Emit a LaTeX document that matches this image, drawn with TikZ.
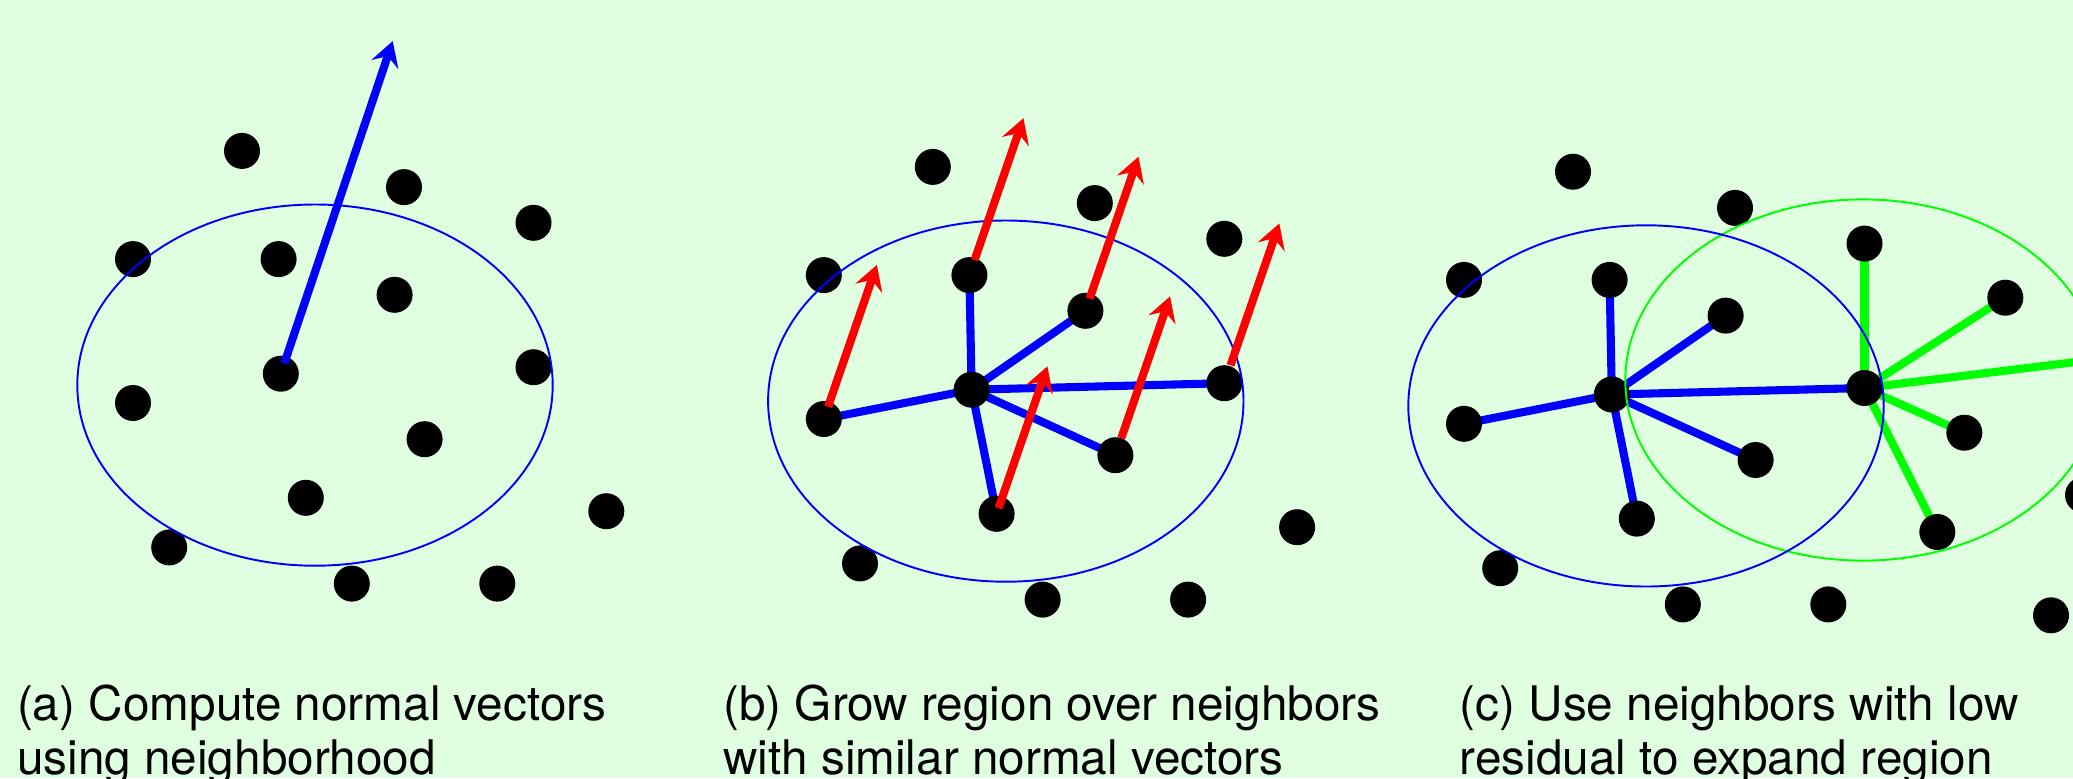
\documentclass[tikz,border=0pt]{standalone}
\usepackage{fontspec}
\setmainfont{TeX Gyre Heros}
\usetikzlibrary{arrows.meta}
\definecolor{paper}{RGB}{224,255,224}
\definecolor{regionblue}{RGB}{0,0,255}
\definecolor{normalred}{RGB}{255,0,0}
\definecolor{seedgreen}{RGB}{0,255,0}
% the same point cloud in every panel
\newcommand{\cloudpts}{1/2.420/6.271, 2/4.040/5.909, 3/5.335/5.552, 4/1.330/5.189,
  5/2.786/5.189, 6/3.946/4.832, 7/2.808/4.043, 8/5.335/4.108, 9/1.330/3.750,
  10/4.246/3.388, 11/3.058/2.802, 12/6.063/2.668, 13/1.692/2.306, 14/3.518/1.944,
  15/4.973/1.944}

\begin{document}
\begin{tikzpicture}[
  ring/.style={line width=0.55pt},
  link/.style={line width=2.3pt},
  normal/.style={line width=2.3pt, -{Stealth[length=7pt, width=8pt, inset=2.5pt]}},
  caption/.style={anchor=base west, align=left, inner sep=0pt,
    font=\fontsize{13.57pt}{15.36pt}\selectfont}]
  \useasboundingbox (0,0) rectangle (20.73,7.78);
  \fill[paper] (0,0) rectangle (20.73,7.78);
  \clip (0,0) rectangle (20.73,7.78);

  % (a) normal vector of the neighborhood
  \begin{scope}[name prefix=a-]
    \foreach \n/\x/\y in \cloudpts \coordinate (p\n) at (\x,\y);
    \foreach \n in {1,...,15} \fill (p\n) circle (0.18);
    \draw[ring, regionblue] (3.15,3.929) ellipse (2.377 and 1.806);
    \draw[normal, regionblue] (p7) ++(71.4:0.11) -- ++(71.4:3.40);
  \end{scope}

  % (b) region grown over the neighbors
  \begin{scope}[shift={(6.908,-0.16)}, name prefix=b-]
    \foreach \n/\x/\y in \cloudpts \coordinate (p\n) at (\x,\y);
    \foreach \m in {5,6,8,9,10,11} \draw[link, regionblue] (p7) -- (p\m);
    \foreach \n in {1,...,15} \fill (p\n) circle (0.18);
    \draw[ring, regionblue] (3.15,3.929) ellipse (2.377 and 1.806);
    \foreach \m/\s in {5/0.16, 6/0.13, 8/0.19, 9/0.13, 10/0.18, 11/0.06}
      \draw[normal, normalred] (p\m) ++(71:\s) -- ++(71:1.5);
  \end{scope}

  % (c) expand from a low residual neighbor
  \begin{scope}[shift={(13.31,-0.208)}, name prefix=c-]
    \foreach \n/\x/\y in \cloudpts \coordinate (p\n) at (\x,\y);
    \coordinate (q1) at (6.743,5.011);
    \coordinate (q2) at (6.333,3.661);
    \coordinate (q3) at (7.52,3.038);
    \coordinate (q4) at (7.20,1.835);
    \coordinate (q5) at (8.04,4.441); % off the page
    \foreach \m in {p3,q1,q5,q2,p12} \draw[link, seedgreen] (p8) -- (\m);
    \foreach \m in {5,6,8,9,10,11} \draw[link, regionblue] (p7) -- (p\m);
    \foreach \n in {p1,p2,p3,p4,p5,p6,p7,p8,p9,p10,p11,p12,p13,p14,p15,q1,q2,q3,q4}
      \fill (\n) circle (0.18);
    \draw[ring, seedgreen] (5.32,4.188) ellipse (2.377 and 1.806);
    \draw[ring, regionblue] (3.15,3.929) ellipse (2.377 and 1.806);
  \end{scope}

  % captions (anchored on the second line)
  \node[caption] (capa) at (0.164,0.033) {(a) Compute normal vectors\\using neighborhood};
  \node[caption] (capb) at (7.227,0.033) {(b) Grow region over neighbors\\with similar normal vectors};
  \node[caption] (capc) at (14.591,0.033) {(c) Use neighbors with low\\residual to expand region};
\end{tikzpicture}
\end{document}
